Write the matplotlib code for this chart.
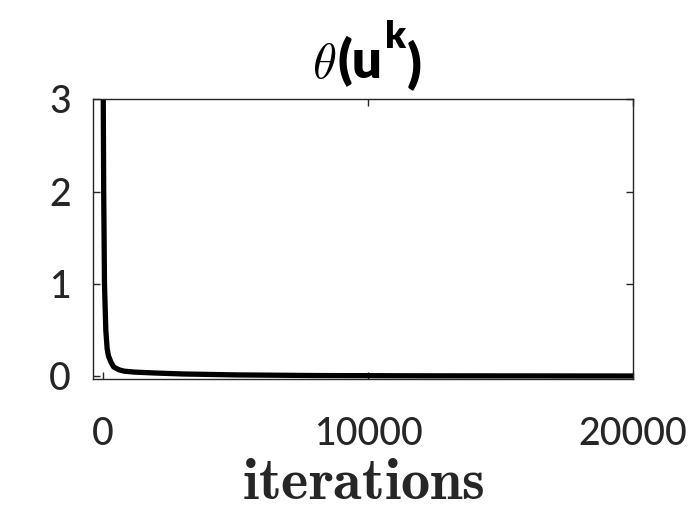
import matplotlib
matplotlib.use("Agg")
import matplotlib.pyplot as plt

plt.rcParams['mathtext.fontset'] = 'cm'

# objective value theta(u^k) vs iteration
iters = [0, 20, 50, 100, 150, 200, 300, 400, 600, 800, 1200, 2000, 3000,
         5000, 8000, 12000, 20000]
theta = [3.2, 2.0, 1.0, 0.5, 0.3, 0.22, 0.15, 0.1, 0.07, 0.055, 0.045,
         0.035, 0.025, 0.015, 0.008, 0.005, 0.003]

xticks = [0, 10000, 20000]
yticks = [0, 1, 2, 3]

dark = '#262626'

fig = plt.figure(figsize=(7, 5.25), dpi=100)
ax = fig.add_axes([0.133, 0.278, 0.771, 0.533])
ax.plot(iters, theta, color='black', linewidth=3.8, solid_joinstyle='round')

ax.set_xlim(-380, 20000)
ax.set_ylim(-0.03, 3.0)
ax.set_xticks(xticks)
ax.set_yticks(yticks)
ax.set_xticklabels([str(v) for v in xticks], family='Lato', fontsize=27,
                   fontweight='medium', color=dark)
ax.set_yticklabels([str(v) for v in yticks], family='Lato', fontsize=27,
                   fontweight='medium', color=dark)
ax.tick_params(direction='in', top=True, right=True, length=5, width=1, color=dark)
ax.tick_params(axis='x', pad=27)
ax.tick_params(axis='y', pad=16)
for s in ax.spines.values():
    s.set_color(dark)
    s.set_linewidth(1)

ax.set_xlabel(r'$\mathbf{iterations}$', fontsize=42, color=dark, labelpad=2)

# title pieces: italic theta, then bold sans "(u^k)", all on one baseline
base = 0.851
t1 = fig.text(0.446, base, r'$\theta$', fontsize=35, color='black', va='baseline')
t2 = ax.annotate('(u', xy=(1, base), xycoords=(t1, 'figure fraction'),
                 xytext=(1, 0), textcoords='offset points',
                 va='baseline', ha='left', fontsize=38, family='Lato',
                 fontweight='heavy', color='black')
t3 = ax.annotate('k', xy=(1, base), xycoords=(t2, 'figure fraction'),
                 xytext=(2, 22), textcoords='offset points',
                 va='baseline', ha='left', fontsize=27, family='Lato',
                 fontweight='heavy', color='black')
ax.annotate(')', xy=(1, base), xycoords=(t3, 'figure fraction'),
            xytext=(0, -3), textcoords='offset points',
            va='baseline', ha='left', fontsize=38, family='Lato',
            fontweight='heavy', color='black')

fig.savefig('out.png', dpi=100)
